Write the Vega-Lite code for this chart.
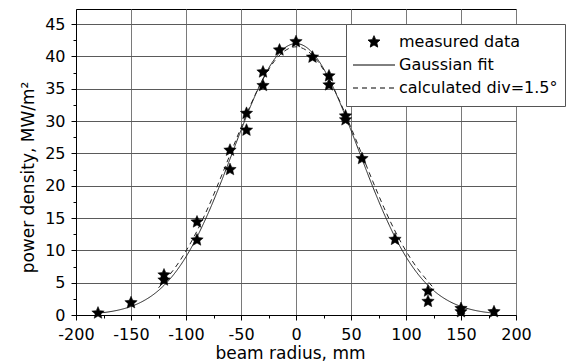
{
  "$schema": "https://vega.github.io/schema/vega-lite/v6.json",
  "width": 440,
  "height": 306,
  "autosize": {"type": "none"},
  "padding": {"left": 76, "top": 9, "right": 65, "bottom": 48},
  "background": "white",
  "datasets": {
    "stars": [
      {"series": "measured data", "x": -180, "y": 0.3},
      {"series": "measured data", "x": -150, "y": 1.9},
      {"series": "measured data", "x": -120, "y": 6.2},
      {"series": "measured data", "x": -120, "y": 5.4},
      {"series": "measured data", "x": -90, "y": 14.4},
      {"series": "measured data", "x": -90, "y": 11.6},
      {"series": "measured data", "x": -60, "y": 25.5},
      {"series": "measured data", "x": -60, "y": 22.5},
      {"series": "measured data", "x": -45, "y": 31.2},
      {"series": "measured data", "x": -45, "y": 28.6},
      {"series": "measured data", "x": -30, "y": 37.6},
      {"series": "measured data", "x": -30, "y": 35.5},
      {"series": "measured data", "x": -15, "y": 41.0},
      {"series": "measured data", "x": 0, "y": 42.3},
      {"series": "measured data", "x": 15, "y": 39.9},
      {"series": "measured data", "x": 30, "y": 37.0},
      {"series": "measured data", "x": 30, "y": 35.6},
      {"series": "measured data", "x": 45, "y": 30.8},
      {"series": "measured data", "x": 45, "y": 30.2},
      {"series": "measured data", "x": 60, "y": 24.2},
      {"series": "measured data", "x": 90, "y": 11.7},
      {"series": "measured data", "x": 120, "y": 3.7},
      {"series": "measured data", "x": 120, "y": 2.1},
      {"series": "measured data", "x": 150, "y": 1.0},
      {"series": "measured data", "x": 150, "y": 0.5},
      {"series": "measured data", "x": 180, "y": 0.5}
    ],
    "curves": [
      {"series": "Gaussian fit", "x": -180, "y": 0.29},
      {"series": "Gaussian fit", "x": -170, "y": 0.49},
      {"series": "Gaussian fit", "x": -160, "y": 0.82},
      {"series": "Gaussian fit", "x": -150, "y": 1.32},
      {"series": "Gaussian fit", "x": -140, "y": 2.06},
      {"series": "Gaussian fit", "x": -130, "y": 3.12},
      {"series": "Gaussian fit", "x": -120, "y": 4.58},
      {"series": "Gaussian fit", "x": -110, "y": 6.52},
      {"series": "Gaussian fit", "x": -100, "y": 9.01},
      {"series": "Gaussian fit", "x": -90, "y": 12.07},
      {"series": "Gaussian fit", "x": -80, "y": 15.69},
      {"series": "Gaussian fit", "x": -70, "y": 19.76},
      {"series": "Gaussian fit", "x": -60, "y": 24.14},
      {"series": "Gaussian fit", "x": -50, "y": 28.59},
      {"series": "Gaussian fit", "x": -40, "y": 32.84},
      {"series": "Gaussian fit", "x": -30, "y": 36.57},
      {"series": "Gaussian fit", "x": -20, "y": 39.49},
      {"series": "Gaussian fit", "x": -10, "y": 41.36},
      {"series": "Gaussian fit", "x": 0, "y": 42.0},
      {"series": "Gaussian fit", "x": 10, "y": 41.36},
      {"series": "Gaussian fit", "x": 20, "y": 39.49},
      {"series": "Gaussian fit", "x": 30, "y": 36.57},
      {"series": "Gaussian fit", "x": 40, "y": 32.84},
      {"series": "Gaussian fit", "x": 50, "y": 28.59},
      {"series": "Gaussian fit", "x": 60, "y": 24.14},
      {"series": "Gaussian fit", "x": 70, "y": 19.76},
      {"series": "Gaussian fit", "x": 80, "y": 15.69},
      {"series": "Gaussian fit", "x": 90, "y": 12.07},
      {"series": "Gaussian fit", "x": 100, "y": 9.01},
      {"series": "Gaussian fit", "x": 110, "y": 6.52},
      {"series": "Gaussian fit", "x": 120, "y": 4.58},
      {"series": "Gaussian fit", "x": 130, "y": 3.12},
      {"series": "Gaussian fit", "x": 140, "y": 2.06},
      {"series": "Gaussian fit", "x": 150, "y": 1.32},
      {"series": "Gaussian fit", "x": 160, "y": 0.82},
      {"series": "Gaussian fit", "x": 170, "y": 0.49},
      {"series": "Gaussian fit", "x": 180, "y": 0.29},
      {"series": "calculated div=1.5°", "x": -125, "y": 4.2},
      {"series": "calculated div=1.5°", "x": -120, "y": 5.2},
      {"series": "calculated div=1.5°", "x": -110, "y": 7.3},
      {"series": "calculated div=1.5°", "x": -100, "y": 9.9},
      {"series": "calculated div=1.5°", "x": -90, "y": 13.0},
      {"series": "calculated div=1.5°", "x": -80, "y": 16.6},
      {"series": "calculated div=1.5°", "x": -70, "y": 20.6},
      {"series": "calculated div=1.5°", "x": -60, "y": 24.8},
      {"series": "calculated div=1.5°", "x": -50, "y": 29.0},
      {"series": "calculated div=1.5°", "x": -40, "y": 33.0},
      {"series": "calculated div=1.5°", "x": -30, "y": 36.5},
      {"series": "calculated div=1.5°", "x": -20, "y": 39.2},
      {"series": "calculated div=1.5°", "x": -10, "y": 40.9},
      {"series": "calculated div=1.5°", "x": 0, "y": 41.5},
      {"series": "calculated div=1.5°", "x": 10, "y": 40.9},
      {"series": "calculated div=1.5°", "x": 20, "y": 39.2},
      {"series": "calculated div=1.5°", "x": 30, "y": 36.5},
      {"series": "calculated div=1.5°", "x": 40, "y": 33.0},
      {"series": "calculated div=1.5°", "x": 50, "y": 29.0},
      {"series": "calculated div=1.5°", "x": 60, "y": 24.8},
      {"series": "calculated div=1.5°", "x": 70, "y": 20.6},
      {"series": "calculated div=1.5°", "x": 80, "y": 16.6},
      {"series": "calculated div=1.5°", "x": 90, "y": 13.0},
      {"series": "calculated div=1.5°", "x": 100, "y": 9.9},
      {"series": "calculated div=1.5°", "x": 110, "y": 7.3},
      {"series": "calculated div=1.5°", "x": 120, "y": 5.2},
      {"series": "calculated div=1.5°", "x": 125, "y": 4.2}
    ]
  },
  "encoding": {
    "x": {
      "field": "x",
      "type": "quantitative",
      "scale": {"domain": [-200, 200], "nice": false, "zero": false},
      "axis": {
        "title": "beam radius, mm",
        "values": [-200, -175, -150, -125, -100, -75, -50, -25, 0, 25, 50, 75, 100, 125, 150, 175, 200],
        "labelExpr": "datum.value % 50 === 0 ? '' + datum.value : ''",
        "tickSize": {"condition": {"test": "datum.value % 50 === 0", "value": 5}, "value": 3},
        "gridColor": {"condition": {"test": "datum.value % 50 === 0", "value": "#7a7a7a"}, "value": "rgba(0,0,0,0)"},
        "labelPadding": 6,
        "labelFlush": false,
        "labelOverlap": false,
        "titleX": 214,
        "titleY": 43,
        "titleAlign": "center",
        "titleBaseline": "alphabetic"
      }
    },
    "y": {
      "field": "y",
      "type": "quantitative",
      "scale": {"domain": [0, 47.35], "nice": false, "zero": false},
      "axis": {
        "title": "power density, MW/m²",
        "values": [0, 2.5, 5, 7.5, 10, 12.5, 15, 17.5, 20, 22.5, 25, 27.5, 30, 32.5, 35, 37.5, 40, 42.5, 45],
        "labelExpr": "datum.value % 5 === 0 ? '' + datum.value : ''",
        "tickSize": {"condition": {"test": "datum.value % 5 === 0", "value": 5}, "value": 3},
        "gridColor": {"condition": {"test": "datum.value % 5 === 0", "value": "#5a5a5a"}, "value": "rgba(0,0,0,0)"},
        "labelPadding": 6,
        "labelFlush": false,
        "labelOverlap": false,
        "titleAngle": -90,
        "titleX": -42.5,
        "titleY": 168,
        "titleAlign": "center",
        "titleBaseline": "alphabetic"
      }
    }
  },
  "layer": [
    {
      "data": {"name": "curves"},
      "mark": {"type": "line", "stroke": "#222222", "strokeWidth": 1, "interpolate": "monotone"},
      "encoding": {
        "strokeDash": {
          "field": "series",
          "type": "nominal",
          "scale": {
            "domain": ["measured data", "Gaussian fit", "calculated div=1.5°"],
            "range": [[1, 0], [1, 0], [5, 4]]
          },
          "legend": {
            "title": null,
            "labelExpr": "datum.label + '\u00a0\u00a0\u2009'",
            "encode": {"symbols": {"update": {"stroke": {"value": "#000000"}, "strokeWidth": {"value": 1}}}}
          }
        }
      }
    },
    {
      "data": {"name": "stars"},
      "mark": {"type": "point", "filled": true, "fill": "black", "stroke": "black", "strokeWidth": 0.5, "size": 1880, "opacity": 1},
      "encoding": {
        "shape": {
          "field": "series",
          "type": "nominal",
          "scale": {
            "domain": ["measured data", "Gaussian fit", "calculated div=1.5°"],
            "range": ["M0,-0.3L0.0811,-0.1116L0.2853,-0.0927L0.1312,0.0426L0.1763,0.2427L0,0.138L-0.1763,0.2427L-0.1312,0.0426L-0.2853,-0.0927L-0.0811,-0.1116Z", "stroke", "stroke"]
          },
          "legend": {
            "title": null,
            "labelExpr": "datum.label + '\u00a0\u00a0\u2009'",
            "encode": {"symbols": {"update": {"stroke": {"value": "#000000"}, "strokeWidth": {"value": 1}}}}
          }
        }
      }
    }
  ],
  "config": {
    "font": "DejaVu Sans",
    "view": {"stroke": "#000000", "strokeWidth": 1},
    "axis": {
      "domainColor": "#000000",
      "domainWidth": 1,
      "tickColor": "#000000",
      "tickWidth": 1,
      "grid": true,
      "gridWidth": 1,
      "gridOpacity": 1,
      "labelFont": "DejaVu Sans",
      "labelFontSize": 16,
      "labelColor": "#000000",
      "titleFont": "DejaVu Sans",
      "titleFontSize": 17,
      "titleFontWeight": "normal",
      "titleColor": "#000000"
    },
    "legend": {
      "orient": "none",
      "legendX": 270,
      "legendY": 15,
      "padding": 6.5,
      "clipHeight": 23,
      "rowPadding": 0,
      "labelOffset": 3.5,
      "labelFont": "DejaVu Sans",
      "labelFontSize": 16,
      "labelColor": "#000000",
      "labelLimit": 400,
      "fillColor": "white",
      "strokeColor": "#555555",
      "symbolSize": 1764,
      "symbolStrokeWidth": 1,
      "symbolFillColor": "#000000",
      "symbolStrokeColor": "#000000",
      "symbolOpacity": 1
    }
  }
}
